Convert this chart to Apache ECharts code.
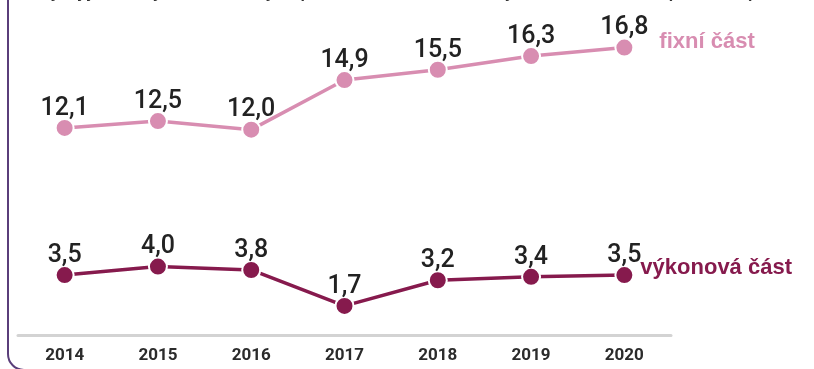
<!DOCTYPE html>
<html>
<head>
<meta charset="utf-8">
<script src="https://cdn.jsdelivr.net/npm/echarts@6/dist/echarts.min.js"></script>
<style>
  html, body { margin: 0; padding: 0; background: #fff; }
  #chart { width: 814px; height: 369px; }
</style>
</head>
<body>
<div id="chart"></div>
<script>
// Years on the horizontal axis
const years = ['2014', '2015', '2016', '2017', '2018', '2019', '2020'];
// Fixed component of the price
const fixniCast = [12.1, 12.5, 12.0, 14.9, 15.5, 16.3, 16.8];
// Capacity component of the price
const vykonovaCast = [3.5, 4.0, 3.8, 1.7, 3.2, 3.4, 3.5];

const titleText = 'Vývoj jednotlivých složek ceny za přenos a distribuci elektřiny v letech 2014–2020 (v Kč/MWh)';

const chart = echarts.init(document.getElementById('chart'), null, { renderer: 'canvas' });

const valueLabel = {
  show: true,
  position: 'top',
  distance: -3,
  color: '#222222',
  fontFamily: 'Roboto',
  fontWeight: 500,
  fontSize: 25,
  formatter: p => p.value.toFixed(1).replace('.', ',')
};

function lineSeries(name, data, color, endDistance, endOffsetY) {
  return {
    name: name,
    type: 'line',
    data: data,
    symbol: 'circle',
    symbolSize: 18,
    lineStyle: { color: color, width: 3.5 },
    itemStyle: { color: color, borderColor: '#ffffff', borderWidth: 2 },
    label: valueLabel,
    endLabel: {
      show: true,
      formatter: '{a}',
      color: color,
      fontFamily: 'Liberation Sans',
      fontWeight: 'bold',
      fontSize: 22,
      distance: endDistance,
      offset: [0, endOffsetY]
    },
    emphasis: { disabled: true },
    animation: false,
    z: 3
  };
}

chart.setOption({
  animation: false,
  grid: { left: 18, right: 143, top: 27, bottom: 34 },
  xAxis: {
    type: 'category',
    data: years,
    boundaryGap: true,
    axisLine: { show: true, lineStyle: { color: '#d3d3d3', width: 3 } },
    axisTick: { show: false },
    axisLabel: {
      color: '#2b2b2b',
      fontFamily: 'Roboto',
      fontWeight: 'bold',
      fontSize: 17,
      margin: 12
    },
    splitLine: { show: false }
  },
  yAxis: {
    type: 'value',
    min: 0,
    max: 18,
    show: false,
    splitLine: { show: false }
  },
  series: [
    lineSeries('fixní část', fixniCast, '#d88db1', 35, -6),
    lineSeries('výkonová část', vykonovaCast, '#861a4d', 16, -7)
  ],
  graphic: [
    {
      type: 'rect',
      shape: { x: 8, y: -30, width: 822, height: 400, r: 16 },
      style: { fill: 'none', stroke: '#5a3e7a', lineWidth: 2 },
      silent: true,
      z: 0
    },
    {
      type: 'text',
      style: {
        text: titleText,
        x: 40,
        y: -6,
        textVerticalAlign: 'middle',
        fill: '#333333',
        font: 'bold 16px "Liberation Sans"'
      },
      silent: true
    }
  ]
});
</script>
</body>
</html>
